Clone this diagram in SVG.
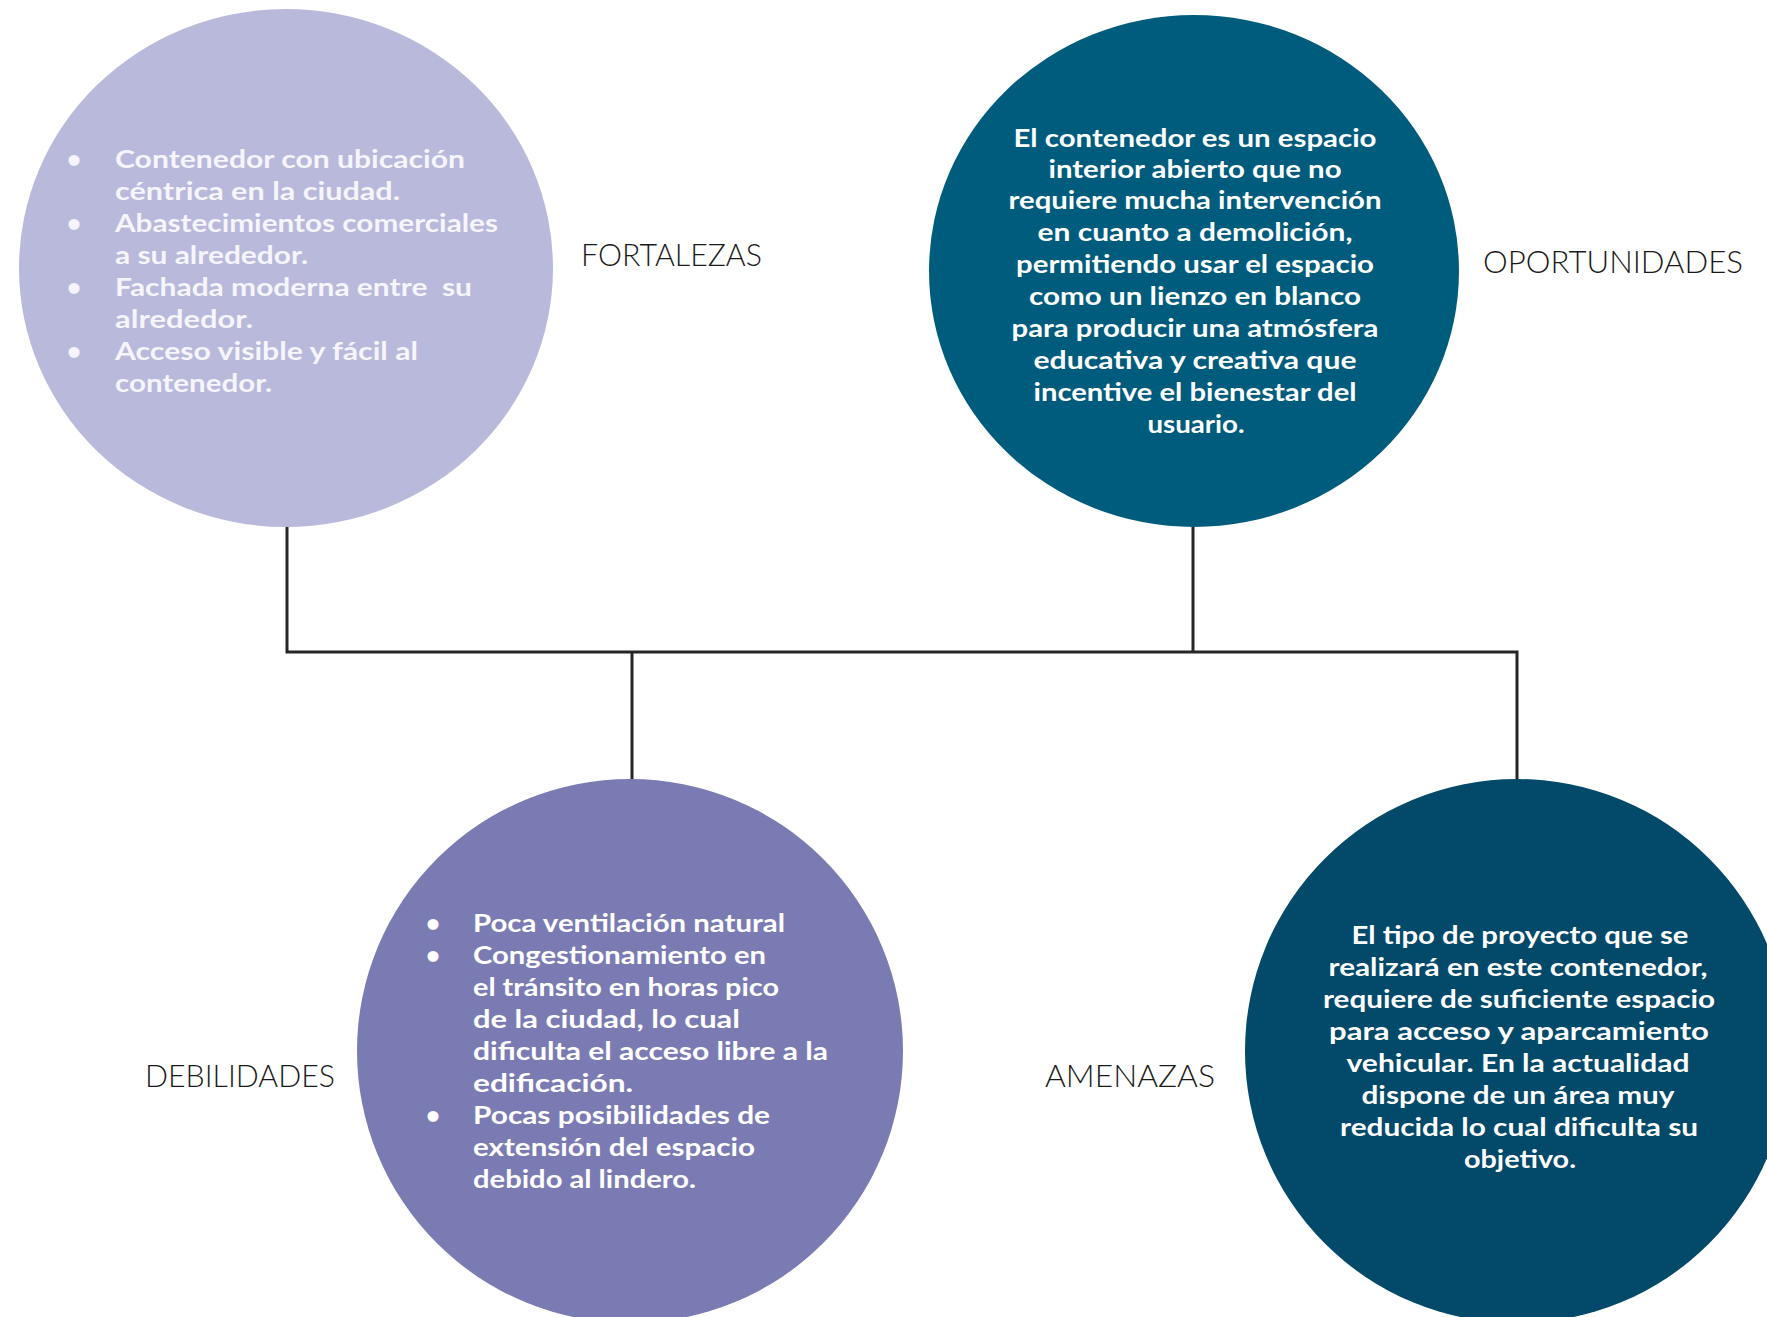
<svg xmlns="http://www.w3.org/2000/svg" width="1767" height="1317" viewBox="0 0 1767 1317">
<style>
.body{font-family:Lato,"Open Sans","Liberation Sans",sans-serif;font-weight:700;font-size:25px;fill:#ffffff}
.fort{fill:#f5f5fb}
.mid{text-anchor:middle}
.lbl{font-family:Lato,"Open Sans","Liberation Sans",sans-serif;font-weight:300;font-size:32px;fill:#1a1a1a}
.conn{fill:none;stroke:#262626;stroke-width:3}
</style>
<rect width="1767" height="1317" fill="#ffffff"/>
<g id="connectors">
<path class="conn" d="M287 527 V652 H1517 V779"/>
<path class="conn" d="M1193 527 V652"/>
<path class="conn" d="M632 652 V779"/>
</g>
<g id="fortalezas">
<ellipse cx="286" cy="268" rx="267" ry="259" fill="#b9b9db"/>
<g class="body fort">
<text x="74" y="168" class="mid">•</text>
<text x="115" y="168" textLength="350" lengthAdjust="spacingAndGlyphs">Contenedor con ubicación</text>
<text x="115" y="200" textLength="285" lengthAdjust="spacingAndGlyphs">céntrica en la ciudad.</text>
<text x="74" y="232" class="mid">•</text>
<text x="115" y="232" textLength="383" lengthAdjust="spacingAndGlyphs">Abastecimientos comerciales</text>
<text x="115" y="264" textLength="193" lengthAdjust="spacingAndGlyphs">a su alrededor.</text>
<text x="74" y="296" class="mid">•</text>
<text x="115" y="296" textLength="357" lengthAdjust="spacingAndGlyphs" xml:space="preserve">Fachada moderna entre  su</text>
<text x="115" y="328" textLength="138" lengthAdjust="spacingAndGlyphs">alrededor.</text>
<text x="74" y="360" class="mid">•</text>
<text x="115" y="360" textLength="303" lengthAdjust="spacingAndGlyphs">Acceso visible y fácil al</text>
<text x="115" y="392" textLength="157" lengthAdjust="spacingAndGlyphs">contenedor.</text>
</g>
<text class="lbl" x="581" y="266" textLength="181" lengthAdjust="spacingAndGlyphs">FORTALEZAS</text>
</g>
<g id="oportunidades">
<ellipse cx="1194" cy="271" rx="265" ry="256" fill="#005c7d"/>
<g class="body mid">
<text x="1195" y="147" textLength="363" lengthAdjust="spacingAndGlyphs">El contenedor es un espacio</text>
<text x="1195" y="178" textLength="293" lengthAdjust="spacingAndGlyphs">interior abierto que no</text>
<text x="1195" y="209" textLength="373" lengthAdjust="spacingAndGlyphs">requiere mucha intervención</text>
<text x="1195" y="241" textLength="315" lengthAdjust="spacingAndGlyphs">en cuanto a demolición,</text>
<text x="1195" y="273" textLength="358" lengthAdjust="spacingAndGlyphs">permitiendo usar el espacio</text>
<text x="1195" y="305" textLength="332" lengthAdjust="spacingAndGlyphs">como un lienzo en blanco</text>
<text x="1195" y="337" textLength="367" lengthAdjust="spacingAndGlyphs">para producir una atmósfera</text>
<text x="1195" y="369" textLength="323" lengthAdjust="spacingAndGlyphs">educativa y creativa que</text>
<text x="1195" y="401" textLength="323" lengthAdjust="spacingAndGlyphs">incentive el bienestar del</text>
<text x="1196" y="433" textLength="97" lengthAdjust="spacingAndGlyphs">usuario.</text>
</g>
<text class="lbl" x="1483" y="273" textLength="260" lengthAdjust="spacingAndGlyphs">OPORTUNIDADES</text>
</g>
<g id="debilidades">
<ellipse cx="630" cy="1051" rx="273" ry="272" fill="#7b7bb4"/>
<g class="body">
<text x="433" y="932" class="mid">•</text>
<text x="473" y="932" textLength="312" lengthAdjust="spacingAndGlyphs">Poca ventilación natural</text>
<text x="433" y="964" class="mid">•</text>
<text x="473" y="964" textLength="293" lengthAdjust="spacingAndGlyphs">Congestionamiento en</text>
<text x="473" y="996" textLength="306" lengthAdjust="spacingAndGlyphs">el tránsito en horas pico</text>
<text x="473" y="1028" textLength="267" lengthAdjust="spacingAndGlyphs">de la ciudad, lo cual</text>
<text x="473" y="1060" textLength="355" lengthAdjust="spacingAndGlyphs">dificulta el acceso libre a la</text>
<text x="473" y="1092" textLength="160" lengthAdjust="spacingAndGlyphs">edificación.</text>
<text x="433" y="1124" class="mid">•</text>
<text x="473" y="1124" textLength="297" lengthAdjust="spacingAndGlyphs">Pocas posibilidades de</text>
<text x="473" y="1156" textLength="282" lengthAdjust="spacingAndGlyphs">extensión del espacio</text>
<text x="473" y="1188" textLength="223" lengthAdjust="spacingAndGlyphs">debido al lindero.</text>
</g>
<text class="lbl" x="145" y="1087" textLength="190" lengthAdjust="spacingAndGlyphs">DEBILIDADES</text>
</g>
<g id="amenazas">
<ellipse cx="1517" cy="1051" rx="272" ry="272" fill="#03496a"/>
<g class="body mid">
<text x="1520" y="944" textLength="337" lengthAdjust="spacingAndGlyphs">El tipo de proyecto que se</text>
<text x="1518" y="976" textLength="379" lengthAdjust="spacingAndGlyphs">realizará en este contenedor,</text>
<text x="1519" y="1008" textLength="392" lengthAdjust="spacingAndGlyphs">requiere de suficiente espacio</text>
<text x="1519" y="1040" textLength="380" lengthAdjust="spacingAndGlyphs">para acceso y aparcamiento</text>
<text x="1518" y="1072" textLength="343" lengthAdjust="spacingAndGlyphs">vehicular. En la actualidad</text>
<text x="1518" y="1104" textLength="313" lengthAdjust="spacingAndGlyphs">dispone de un área muy</text>
<text x="1519" y="1136" textLength="358" lengthAdjust="spacingAndGlyphs">reducida lo cual dificulta su</text>
<text x="1520" y="1168" textLength="112" lengthAdjust="spacingAndGlyphs">objetivo.</text>
</g>
<text class="lbl" x="1045" y="1087" textLength="170" lengthAdjust="spacingAndGlyphs">AMENAZAS</text>
</g>
</svg>
